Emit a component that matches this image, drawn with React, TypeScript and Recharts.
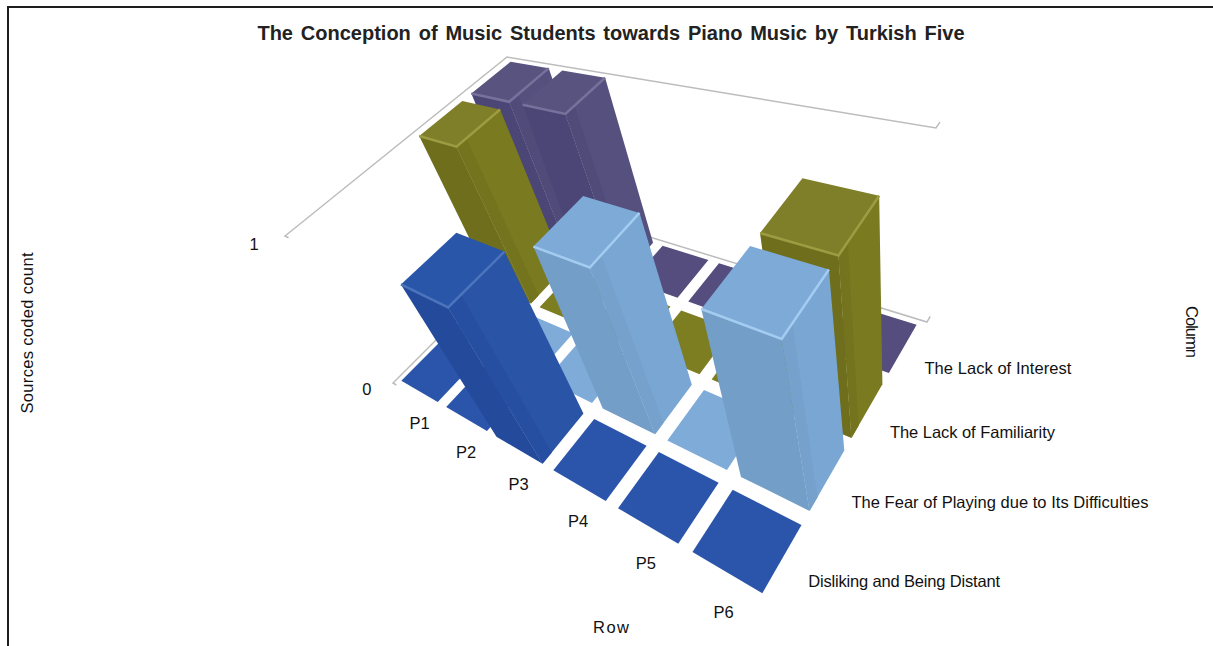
import { ScatterChart, Scatter, XAxis, YAxis } from 'recharts'

const ROWS = ['P1', 'P2', 'P3', 'P4', 'P5', 'P6']
const COLUMNS = [
  'Disliking and Being Distant',
  'The Fear of Playing due to Its Difficulties',
  'The Lack of Familiarity',
  'The Lack of Interest',
]
const dislikingCounts = [0, 0, 1, 0, 0, 0]
const fearCounts = [0, 0, 0, 1, 0, 1]
const familiarityCounts = [1, 0, 0, 0, 0, 1]
const interestCounts = [1, 1, 0, 0, 0, 0]
const VALUE_TICKS = [0, 1]

const WIDTH = 1213
const HEIGHT = 646
const FONT = '"Liberation Sans", Arial, sans-serif'
const GAP = 0.09
const TOP_INSET = 0.07
const COLUMN_LABEL_WIDTHS = [192, 297, 165, 147]

type Pt = [number, number]
type Palette = { top: string; tile: string; left: string; right: string; band: string; edge: string }

const PALETTES: Palette[] = [
  { top: '#2a56aa', tile: '#2b55ab', left: '#244a9b', right: '#2a54a6', band: '#274fa1', edge: '#4c74bd' },
  { top: '#7eaad8', tile: '#7fabd9', left: '#739ec8', right: '#79a6d3', band: '#76a1cd', edge: '#a3ccf0' },
  { top: '#7f7f2a', tile: '#7d7d22', left: '#6e6e1c', right: '#7a7a20', band: '#74741e', edge: '#9c9c42' },
  { top: '#59537f', tile: '#544d7e', left: '#4b4675', right: '#55507e', band: '#504b79', edge: '#77719c' },
]

// Plane corners in the order: row 0/col 0, row 6/col 0, row 6/col 4, row 0/col 4
const FLOOR: Pt[] = [[393, 383], [766, 606], [927, 322], [565, 211]]
const CEILING: Pt[] = [[285, 236], [719, 452], [936, 128], [507, 57]]

function planeMap(q: Pt[]) {
  const [[x0, y0], [x1, y1], [x2, y2], [x3, y3]] = q
  const dx1 = x1 - x2, dx2 = x3 - x2, sx = x0 - x1 + x2 - x3
  const dy1 = y1 - y2, dy2 = y3 - y2, sy = y0 - y1 + y2 - y3
  const den = dx1 * dy2 - dx2 * dy1
  const g = (sx * dy2 - dx2 * sy) / den
  const h = (dx1 * sy - sx * dy1) / den
  const a = x1 - x0 + g * x1, b = x3 - x0 + h * x3
  const d = y1 - y0 + g * y1, e = y3 - y0 + h * y3
  return (s: number, t: number): Pt => {
    const w = g * s + h * t + 1
    return [(a * s + b * t + x0) / w, (d * s + e * t + y0) / w]
  }
}

const floorAt = planeMap(FLOOR)
const ceilingAt = planeMap(CEILING)

// row and col are grid positions, value runs from the floor (0) to the ceiling (1)
function project(row: number, col: number, value = 0): Pt {
  const s = row / ROWS.length
  const t = col / COLUMNS.length
  const [fx, fy] = floorAt(s, t)
  const [cx, cy] = ceilingAt(s, t)
  return [fx + (cx - fx) * value, fy + (cy - fy) * value]
}

const poly = (pts: Pt[]) => pts.map((p) => p.join(',')).join(' ')

function BarShape(props: any) {
  const { cx, cy, payload } = props
  const { row, col, value } = payload
  const pal = PALETTES[col]
  const r0 = row + GAP, r1 = row + 1 - GAP
  const c0 = col + GAP, c1 = col + 1 - GAP
  const dx = cx - payload.x
  const dy = cy - payload.y
  if (!value) {
    return (
      <polygon
        transform={`translate(${dx},${dy})`}
        points={poly([project(r0, c0), project(r1, c0), project(r1, c1), project(r0, c1)])}
        fill={pal.tile}
      />
    )
  }
  const frontLeft = project(r0 + TOP_INSET, c0, value)
  const frontMid = project(r1, c0, value)
  const right = project(r1, c1, value)
  const back = project(r0 + TOP_INSET, c1, value)
  const bandEnd = c0 + 0.18
  return (
    <g transform={`translate(${dx},${dy})`}>
      <polygon points={poly([project(r0, c0), project(r1, c0), frontMid, frontLeft])} fill={pal.left} />
      <polygon points={poly([project(r1, c0), project(r1, c1), right, frontMid])} fill={pal.right} />
      {/* soft shading next to the front corner */}
      <polygon points={poly([project(r1, c0), project(r1, bandEnd), project(r1, bandEnd, value), frontMid])} fill={pal.band} />
      <polygon points={poly([frontLeft, frontMid, right, back])} fill={pal.top} />
      <polyline points={poly([frontLeft, frontMid, right])} fill="none" stroke={pal.edge} strokeWidth={2.5} />
    </g>
  )
}

function cellsFor(col: number, counts: number[]) {
  return counts.map((value, row) => {
    const [x, y] = project(row + 0.5, col + 0.5)
    return { x, y, row, col, value }
  })
}

// Wall outlines with the short tick at each end
const wallLines = VALUE_TICKS.map((v) => [
  project(0.08, 0, v),
  project(0, 0, v),
  project(0, 4, v),
  project(6, 4, v),
  project(6, 4.1, v),
].map(([x, y]) => ({ x, y })))

type TextDatum = { x: number; y: number; text: string; anchor?: string; rotate?: number; size?: number; bold?: boolean; length?: number }

const rowLabels: TextDatum[] = ROWS.map((text, i) => {
  const [x, y] = project(i + 0.93 - 0.05 * i, -0.28 + 0.004 * i)
  return { x, y, text, anchor: 'middle' }
})
const colLabels: TextDatum[] = COLUMNS.map((text, i) => {
  const [x, y] = project(6.23, i * 0.967 + 0.42)
  return { x, y, text, anchor: 'start', length: COLUMN_LABEL_WIDTHS[i] }
})
const valueLabels: TextDatum[] = VALUE_TICKS.map((v) => {
  const [x, y] = project(-0.3, -0.27, v)
  return { x, y, text: String(v), anchor: 'middle' }
})
const titles: TextDatum[] = [
  { x: 611, y: 33, text: 'The Conception of Music Students towards Piano Music by Turkish Five', anchor: 'middle', size: 20, bold: true },
  { x: 27, y: 333, text: 'Sources coded count', anchor: 'middle', rotate: -90, length: 161 },
  { x: 1192, y: 332, text: 'Column', anchor: 'middle', rotate: 90, length: 52 },
  { x: 611, y: 627, text: 'Row', anchor: 'middle', length: 36 },
]

function TextShape(props: any) {
  const { cx, cy, payload } = props
  const d: TextDatum = payload
  return (
    <text
      x={cx}
      y={cy}
      textAnchor={d.anchor}
      dominantBaseline="central"
      transform={d.rotate ? `rotate(${d.rotate} ${cx} ${cy})` : undefined}
      fontFamily={FONT}
      fontSize={d.size ?? 16.5}
      fontWeight={d.bold ? 700 : 400}
      fill={d.bold ? '#222' : '#111'}
      wordSpacing={d.bold ? 2.3 : undefined}
      textLength={d.length}
    >
      {d.text}
    </text>
  )
}

const NoMark = () => null

export default function App() {
  return (
    <div style={{ position: 'fixed', left: 0, top: 0, width: WIDTH, height: HEIGHT, background: '#fff', overflow: 'hidden' }}>
      <div style={{ position: 'absolute', left: 7, top: 6, right: 0, bottom: 0, borderTop: '2px solid #1e1e1e', borderLeft: '2px solid #1e1e1e' }} />
      <ScatterChart width={WIDTH} height={HEIGHT} margin={{ top: 0, right: 0, bottom: 0, left: 0 }} style={{ position: 'absolute', left: 0, top: 0 }}>
        <XAxis type="number" dataKey="x" domain={[0, WIDTH]} hide />
        <YAxis type="number" dataKey="y" domain={[0, HEIGHT]} reversed hide />
        {wallLines.map((line, i) => (
          <Scatter key={i} data={line} line={{ stroke: '#bcbcbc', strokeWidth: 1.5 }} shape={NoMark} isAnimationActive={false} />
        ))}
        <Scatter data={cellsFor(3, interestCounts)} shape={BarShape} isAnimationActive={false} />
        <Scatter data={cellsFor(2, familiarityCounts)} shape={BarShape} isAnimationActive={false} />
        <Scatter data={cellsFor(1, fearCounts)} shape={BarShape} isAnimationActive={false} />
        <Scatter data={cellsFor(0, dislikingCounts)} shape={BarShape} isAnimationActive={false} />
        <Scatter data={[...rowLabels, ...colLabels, ...valueLabels, ...titles]} shape={TextShape} isAnimationActive={false} />
      </ScatterChart>
    </div>
  )
}
